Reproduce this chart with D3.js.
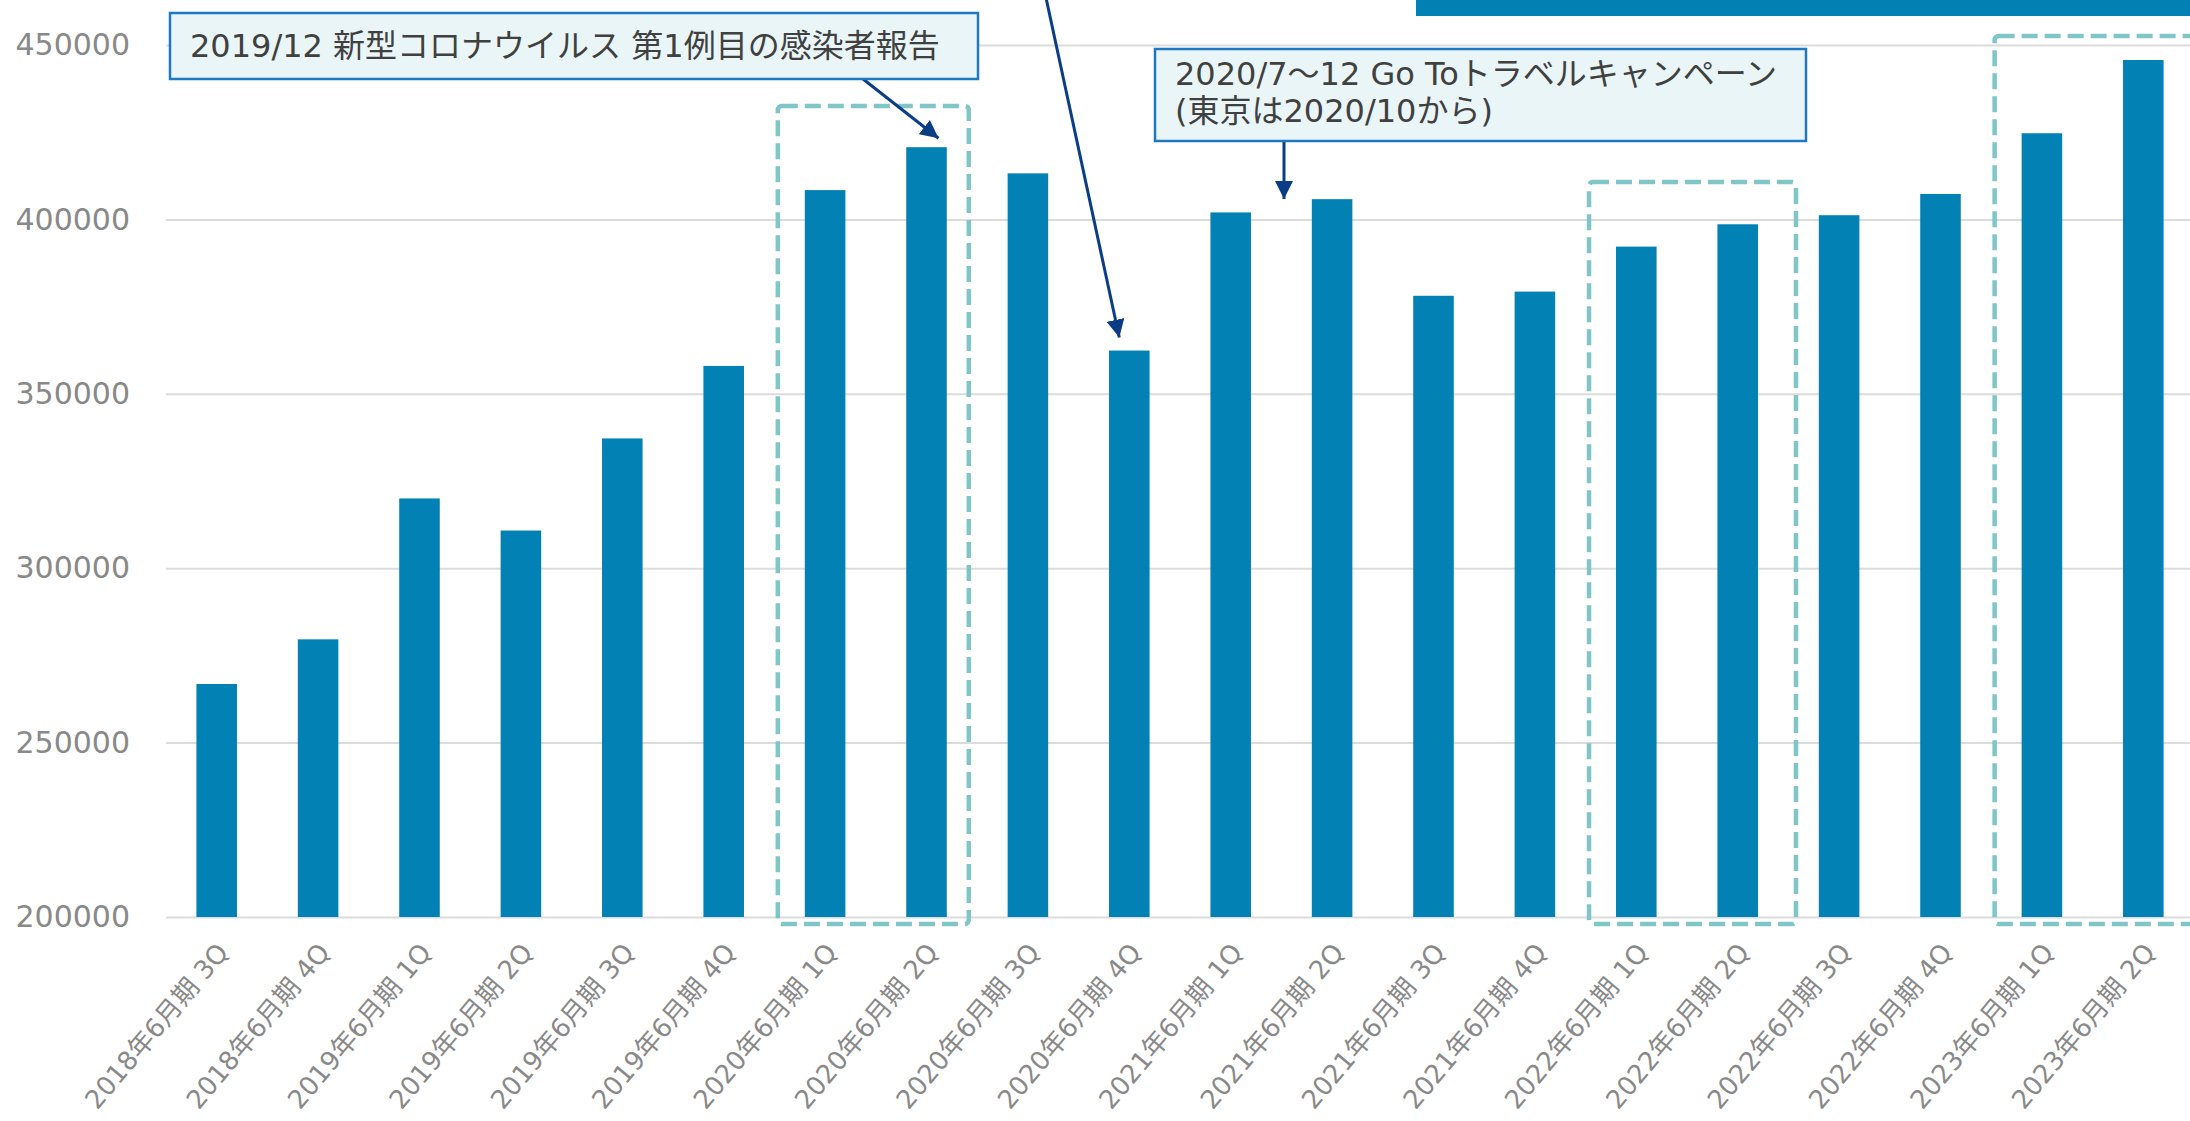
<!DOCTYPE html>
<html><head><meta charset="utf-8">
<script src="https://cdn.jsdelivr.net/npm/d3@7"></script>
<style>html,body{margin:0;padding:0;background:#fff;overflow:hidden}</style>
</head><body>
<svg id="c" width="2190" height="1121"></svg>
<script>
// ---- data ----
const categories = [
  "2018年6月期 3Q","2018年6月期 4Q","2019年6月期 1Q","2019年6月期 2Q","2019年6月期 3Q",
  "2019年6月期 4Q","2020年6月期 1Q","2020年6月期 2Q","2020年6月期 3Q","2020年6月期 4Q",
  "2021年6月期 1Q","2021年6月期 2Q","2021年6月期 3Q","2021年6月期 4Q","2022年6月期 1Q",
  "2022年6月期 2Q","2022年6月期 3Q","2022年6月期 4Q","2023年6月期 1Q","2023年6月期 2Q"
];
const values = [
  266800, 279600, 320000, 310800, 337200,
  358000, 408400, 420700, 413200, 362400,
  402000, 405800, 378100, 379300, 392200,
  398600, 401200, 407300, 424700, 445700
];
const yTicks = [200000, 250000, 300000, 350000, 400000, 450000];
const highlightFirst = ["2020年6月期 1Q", "2022年6月期 1Q", "2023年6月期 1Q"];
const highlightLast  = ["2020年6月期 2Q", "2022年6月期 2Q", "2023年6月期 2Q"];
const highlightTop   = [432500, 410700, 452600];
const note1Lines = ["2019/12 新型コロナウイルス 第1例目の感染者報告"];
const note2Lines = ["2020/7～12 Go Toトラベルキャンペーン", "(東京は2020/10から)"];

// ---- layout ----
const W = 2190, H = 1121;
const FONT = "'DejaVu Sans','Noto Sans CJK JP',sans-serif";
const svg = d3.select("#c");
const x = d3.scaleBand().domain(categories).range([166, 2194]).paddingInner(0.6).paddingOuter(0.3);
const y = d3.scaleLinear().domain([200000, 450000]).range([917, 45]);
const bw = x.bandwidth();

svg.append("defs").append("marker")
  .attr("id", "ah").attr("markerUnits", "userSpaceOnUse")
  .attr("viewBox", "0 0 10 10").attr("refX", 10).attr("refY", 5)
  .attr("markerWidth", 18).attr("markerHeight", 18).attr("orient", "auto")
  .append("path").attr("d", "M0,0 L10,5 L0,10 Z").attr("fill", "#0b3d87");

// title bar (cropped at top)
svg.append("rect").attr("x", 1416).attr("y", 0).attr("width", W - 1416).attr("height", 16).attr("fill", "#0280b4");

// y axis + gridlines
const ya = svg.append("g").attr("transform", "translate(166,0)")
  .call(d3.axisLeft(y).tickValues(yTicks).tickFormat(d3.format("d")).tickSize(-(W - 166)).tickPadding(36));
ya.select(".domain").remove();
ya.selectAll(".tick line").attr("stroke", "#dcdcdc").attr("stroke-width", 2);
ya.selectAll(".tick text").attr("fill", "#898989").style("font-family", FONT).style("font-size", "30px");

// bars
svg.append("g").selectAll("rect").data(categories).join("rect")
  .attr("x", d => x(d)).attr("width", bw)
  .attr("y", (d, i) => y(values[i]))
  .attr("height", (d, i) => y(200000) - y(values[i]))
  .attr("fill", "#0281b5");

// x axis labels
const xa = svg.append("g").attr("transform", `translate(0,${y(200000)})`)
  .call(d3.axisBottom(x).tickSize(0));
xa.select(".domain").remove();
xa.selectAll(".tick text")
  .attr("x", 0).attr("y", 0).attr("dy", 0)
  .attr("transform", "translate(13,36) rotate(-50)")
  .attr("text-anchor", "end")
  .attr("fill", "#898989").style("font-family", FONT).style("font-size", "26px");

// dashed highlight boxes
const padR = [22, 38, 90];
svg.append("g").selectAll("rect").data(highlightFirst).join("rect")
  .attr("x", d => x(d) - 27)
  .attr("y", (d, i) => y(highlightTop[i]))
  .attr("width", (d, i) => x(highlightLast[i]) + bw + padR[i] - (x(d) - 27))
  .attr("height", (d, i) => y(198000) - y(highlightTop[i]))
  .attr("rx", 4)
  .attr("fill", "none").attr("stroke", "#80c5c8").attr("stroke-width", 4.5)
  .attr("stroke-dasharray", "16 7");

// arrows
function arrow(x1, y1, x2, y2) {
  svg.append("line").attr("x1", x1).attr("y1", y1).attr("x2", x2).attr("y2", y2)
    .attr("stroke", "#0b3d87").attr("stroke-width", 3).attr("marker-end", "url(#ah)");
}
const c8 = x("2020年6月期 2Q") + bw / 2;
arrow(863, 79, c8 + 12, y(values[7]) - 9);
arrow(1284, 141, 1284, 199);
const c10 = x("2020年6月期 4Q") + bw / 2;
arrow(1040, -30, c10 - 10, y(values[9]) - 13);

// annotation boxes
function note(x0, y0, w, h, lines, tx, ty, lh) {
  const g = svg.append("g");
  g.append("rect").attr("x", x0).attr("y", y0).attr("width", w).attr("height", h)
    .attr("fill", "#e9f5f7").attr("stroke", "#1f78c1").attr("stroke-width", 2.5);
  g.selectAll("text").data(lines).join("text")
    .attr("x", tx).attr("y", (d, i) => ty + i * lh)
    .attr("fill", "#404040").style("font-family", FONT).style("font-size", "32px")
    .text(d => d);
}
note(170, 13, 808, 66, note1Lines, 190, 57, 0);
note(1155, 49, 651, 92, note2Lines, 1175, 85, 37);
</script>
</body></html>
